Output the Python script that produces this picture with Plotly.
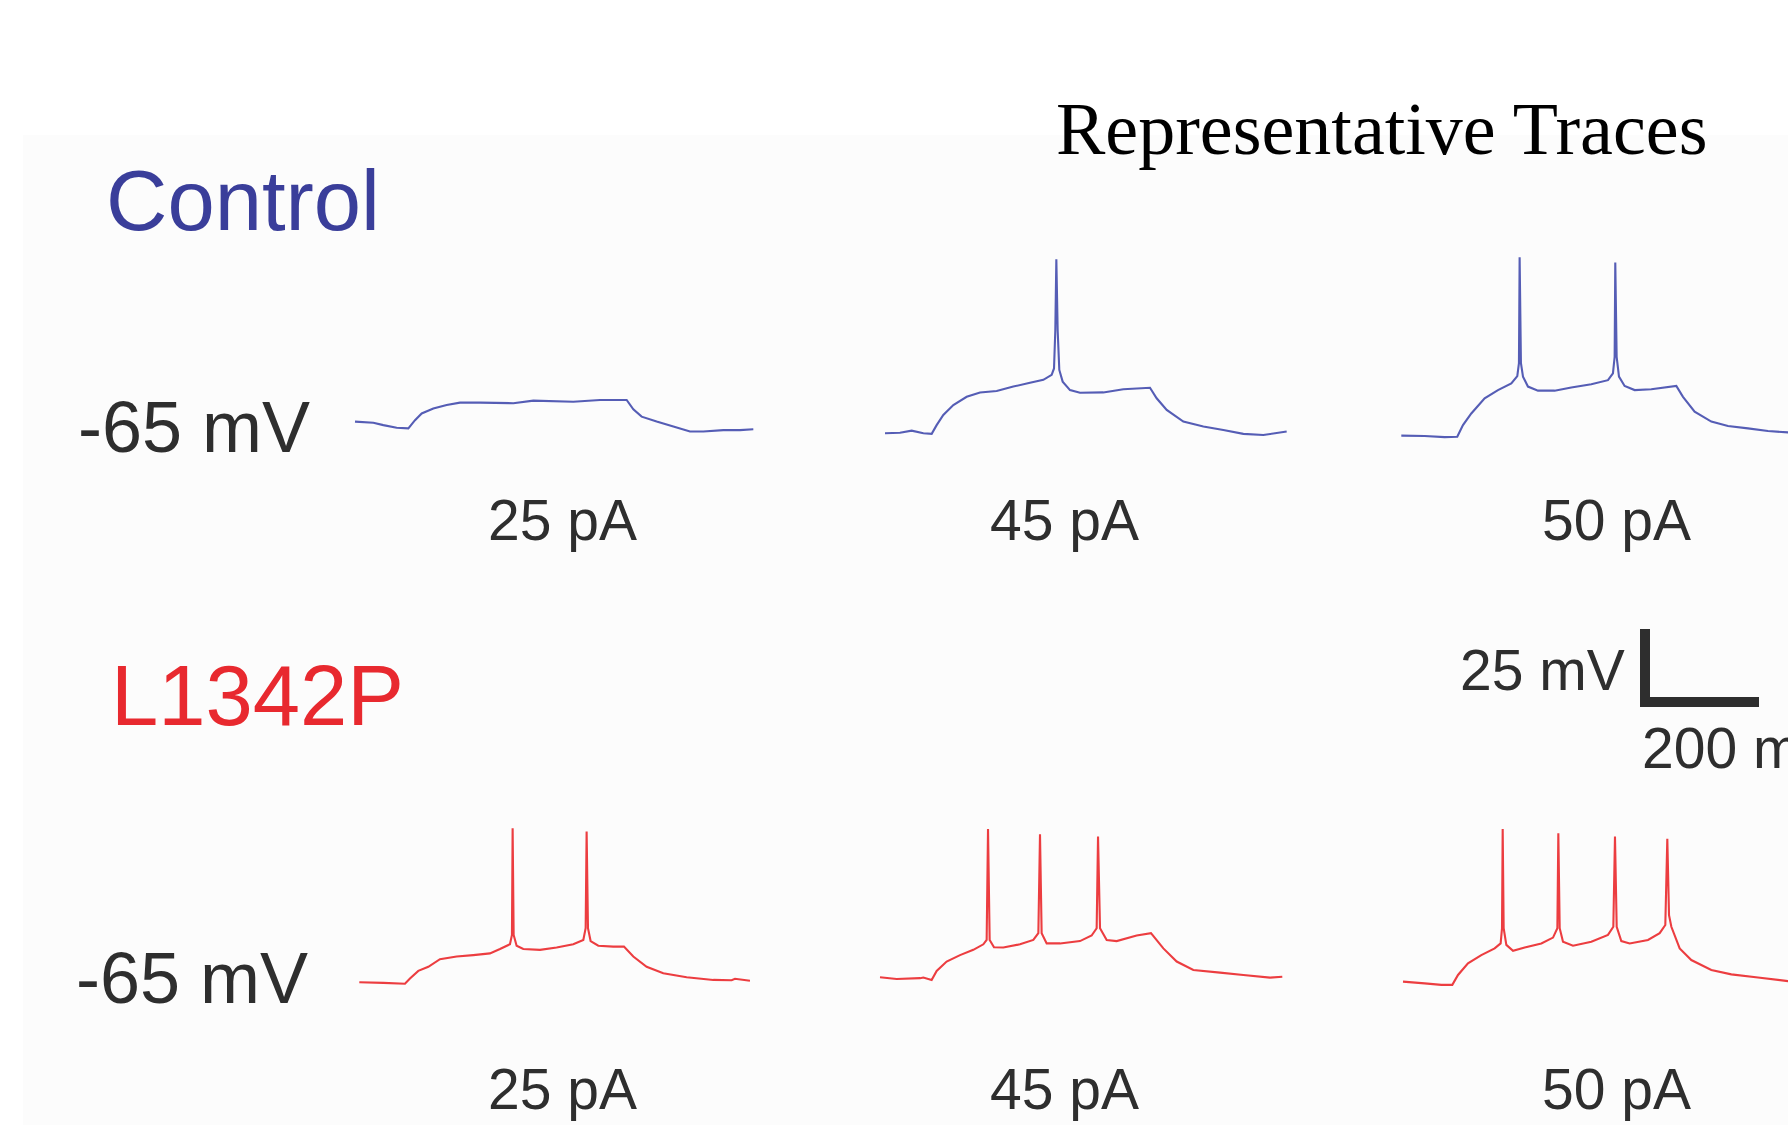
import plotly.graph_objects as go

# ---------------- data (time in ms from trace start, membrane potential in mV) ----------------
ctrl_25_t = [0, 32.2, 49.7, 73.1, 93.6, 105.3, 117.0, 137.4, 160.8, 184.2, 219.3, 277.8, 312.9,
             383.0, 429.8, 476.6, 488.3, 502.9, 529.2, 558.5, 587.7, 611.1, 646.2, 675.4, 698.8]
ctrl_25_v = [-63.5, -63.9, -64.7, -65.6, -65.8, -63.0, -60.7, -59.0, -57.8, -57.0, -57.0, -57.2, -56.3,
             -56.7, -56.1, -56.1, -59.3, -61.8, -63.5, -65.2, -66.9, -66.9, -66.4, -66.4, -66.1]

ctrl_45_t = [0, 26.3, 46.8, 67.3, 81.9, 90.6, 102.3, 119.9, 143.3, 166.7, 195.9, 225.1, 254.4, 277.8,
             292.4, 296.5, 298.8, 300.6, 302.9, 305.8, 311.7, 324.6, 342.1, 383.0, 418.1, 464.9, 476.6,
             494.2, 523.4, 558.5, 593.6, 628.7, 663.7, 704.7]
ctrl_45_v = [-67.5, -67.3, -66.6, -67.5, -67.7, -64.7, -61.2, -57.8, -55.0, -53.5, -53.0, -51.5, -50.2, -49.2,
             -47.5, -45.3, -32.1, -7.9, -32.1, -45.8, -49.8, -52.7, -53.6, -53.5, -52.4, -51.9, -55.5,
             -59.5, -63.5, -65.2, -66.4, -67.7, -68.1, -66.9]

ctrl_50_t = [0, 40.9, 76.0, 98.2, 108.2, 122.8, 146.2, 169.6, 193.0, 203.5, 206.4, 207.6, 209.9, 213.5,
             222.2, 239.8, 269.0, 298.2, 333.3, 362.6, 371.3, 374.3, 375.4, 377.8, 381.9, 391.8, 409.4,
             438.6, 482.5, 494.2, 514.6, 543.9, 573.1, 608.2, 643.3, 678.4, 695.9]
ctrl_50_v = [-68.3, -68.4, -68.8, -68.7, -64.7, -60.7, -55.5, -52.7, -50.4, -47.9, -43.5, -7.2, -43.5, -48.1,
             -51.5, -52.9, -52.9, -51.8, -50.7, -49.3, -47.0, -41.3, -9.0, -41.3, -48.1, -51.3, -52.7,
             -52.4, -51.3, -55.0, -60.1, -63.5, -65.0, -65.8, -66.7, -67.2, -67.3]

mut_25_t = [0, 42.1, 80.1, 88.9, 103.5, 121.1, 141.5, 170.8, 200.0, 229.2, 246.8, 264.3, 267.8, 269.0,
            270.8, 276.0, 287.7, 317.0, 346.2, 375.4, 393.0, 397.1, 398.8, 401.2, 405.8, 419.3, 445.6,
            464.3, 480.7, 504.1, 533.3, 574.3, 621.1, 653.2, 659.1, 685.4]
mut_25_v = [-66.8, -67.0, -67.3, -65.5, -62.9, -61.5, -58.9, -58.0, -57.5, -56.9, -55.4, -53.8, -50.6, -14.1,
            -50.6, -54.3, -55.4, -55.7, -54.9, -53.8, -52.3, -48.3, -15.2, -48.3, -52.7, -54.3, -54.6,
            -54.6, -58.0, -61.5, -63.7, -65.1, -66.0, -66.1, -65.6, -66.3]

mut_45_t = [0, 29.2, 70.2, 76.0, 90.6, 99.4, 116.9, 140.4, 163.7, 181.3, 187.1, 189.5, 192.4, 200.0,
            216.4, 245.6, 269.0, 277.8, 280.7, 283.6, 292.4, 315.8, 350.9, 371.3, 380.1, 382.5, 386.0,
            397.7, 415.2, 450.3, 475.4, 497.1, 520.5, 549.7, 596.5, 637.4, 684.2, 705.8]
mut_45_v = [-65.1, -65.7, -65.4, -65.2, -66.0, -62.9, -59.7, -57.5, -55.7, -53.8, -52.3, -14.3, -52.3, -54.8,
            -54.9, -53.8, -52.3, -50.0, -16.1, -50.0, -53.5, -53.5, -52.7, -50.8, -48.3, -16.9, -48.3,
            -52.3, -52.7, -50.8, -50.0, -55.2, -59.7, -62.6, -63.5, -64.3, -65.2, -64.9]

mut_50_t = [0, 38.0, 67.3, 86.5, 96.5, 114.0, 137.4, 160.8, 171.3, 173.7, 174.9, 176.6, 181.3, 193.0,
            213.5, 242.7, 263.2, 270.8, 272.5, 274.9, 280.7, 298.2, 330.4, 359.6, 369.0, 371.9, 374.9,
            383.0, 397.7, 429.8, 450.3, 460.2, 463.7, 466.7, 470.8, 485.4, 505.8, 540.9, 576.0, 622.8,
            675.4, 698.8]
mut_50_v = [-66.6, -67.2, -67.7, -67.7, -64.3, -60.3, -57.5, -55.2, -53.5, -48.3, -14.3, -48.3, -54.0, -56.0,
            -54.9, -53.5, -51.5, -48.3, -15.8, -48.3, -52.9, -54.3, -52.9, -50.6, -47.8, -16.9, -47.8,
            -52.7, -53.5, -52.3, -50.0, -47.2, -17.7, -43.8, -47.8, -55.2, -59.2, -62.6, -64.1, -65.2,
            -66.4, -66.6]

# scale bar: 200 ms by 25 mV
scale_t = [0, 0, 200]
scale_v = [25, 0, 0]

groups = ["Control", "L1342P"]
currents = ["25 pA", "45 pA", "50 pA"]
holding_label = "-65 mV"
holding_mv = -65
title_text = "Representative Traces"
scale_labels = ["25 mV", "200 ms"]

# ---------------- layout geometry ----------------
W, H = 1788, 1125
PX_PER_MS = 0.57
PX_PER_MV = 2.92

BLUE_TRACE = "#555db5"
RED_TRACE = "#ec3d40"
BLUE_TEXT = "#3a3e9a"
RED_TEXT = "#e8292f"
GREY = "#2e2e2e"

# (t, v, colour, x pixel of t=0, row)
traces = [
    (ctrl_25_t, ctrl_25_v, BLUE_TRACE, 355.0, 0),
    (ctrl_45_t, ctrl_45_v, BLUE_TRACE, 885.0, 0),
    (ctrl_50_t, ctrl_50_v, BLUE_TRACE, 1401.3, 0),
    (mut_25_t, mut_25_v, RED_TRACE, 359.3, 1),
    (mut_45_t, mut_45_v, RED_TRACE, 880.0, 1),
    (mut_50_t, mut_50_v, RED_TRACE, 1403.0, 1),
]
row_ref_px = [426.0, 977.0]   # pixel row of -65 mV in each row

fig = go.Figure()
layout_axes = {}


def xrange_for(x0):
    return [-x0 / PX_PER_MS, (W - x0) / PX_PER_MS]


def yrange_for(yref_px, ref_val):
    return [ref_val - (H - yref_px) / PX_PER_MV, ref_val + yref_px / PX_PER_MV]


hidden = dict(visible=False, fixedrange=True, domain=[0, 1], showgrid=False, zeroline=False)

for i, (t, v, col, x0, row) in enumerate(traces):
    xa = "x" if i == 0 else f"x{i + 1}"
    ya = "y" if row == 0 else "y2"
    fig.add_trace(go.Scatter(x=t, y=v, mode="lines", xaxis=xa, yaxis=ya,
                             line=dict(color=col, width=2.1, simplify=False),
                             hoverinfo="skip", showlegend=False))
    key = "xaxis" if i == 0 else f"xaxis{i + 1}"
    layout_axes[key] = dict(hidden, range=xrange_for(x0), anchor=ya)

layout_axes["yaxis"] = dict(hidden, range=yrange_for(row_ref_px[0], holding_mv), anchor="x")
layout_axes["yaxis2"] = dict(hidden, range=yrange_for(row_ref_px[1], holding_mv), anchor="x4")

# scale bar on its own axes (corner at pixel 1645, 702)
fig.add_trace(go.Scatter(x=scale_t, y=scale_v, mode="lines", xaxis="x7", yaxis="y3",
                         line=dict(color=GREY, width=10), hoverinfo="skip", showlegend=False))
layout_axes["xaxis7"] = dict(hidden, range=xrange_for(1645.0), anchor="y3")
layout_axes["yaxis3"] = dict(hidden, range=yrange_for(702.0, 0), anchor="x7")


def px(x):
    return x / W


def py(y):
    return 1 - y / H


SANS = "Liberation Sans, Arial, sans-serif"
SERIF = "Liberation Serif, Times New Roman, serif"

ann = []


def label(text, x, y, size, color, xanchor="left", family=SANS):
    ann.append(dict(text=text, x=px(x), y=py(y), xref="paper", yref="paper",
                    xanchor=xanchor, yanchor="middle", showarrow=False, borderpad=0,
                    font=dict(family=family, size=size, color=color)))


label(title_text, 1055, 129, 74, "#000000", family=SERIF)
label(groups[0], 105, 201, 85, BLUE_TEXT)
label(groups[1], 110, 695, 85, RED_TEXT)
label(holding_label, 77, 427, 72, GREY)
label(holding_label, 75, 978, 72, GREY)
for cx, cur in zip([562, 1064, 1616], currents):
    label(cur, cx, 520, 57, GREY, xanchor="center")
    label(cur, cx, 1089, 57, GREY, xanchor="center")
label(scale_labels[0], 1626, 670, 57, GREY, xanchor="right")
label(scale_labels[1], 1641, 748, 57, GREY)

fig.update_layout(
    width=W, height=H,
    margin=dict(l=0, r=0, t=0, b=0, pad=0),
    paper_bgcolor="#ffffff",
    plot_bgcolor="rgba(0,0,0,0)",
    showlegend=False,
    annotations=ann,
    shapes=[dict(type="rect", xref="paper", yref="paper", x0=px(23), x1=1, y0=0, y1=py(135),
                 line=dict(width=0), fillcolor="#fcfcfc", layer="below")],
    **layout_axes,
)

fig.write_html("out.html", config={"displayModeBar": False},
               post_script="document.body.style.margin='0';document.body.style.overflow='hidden';")
